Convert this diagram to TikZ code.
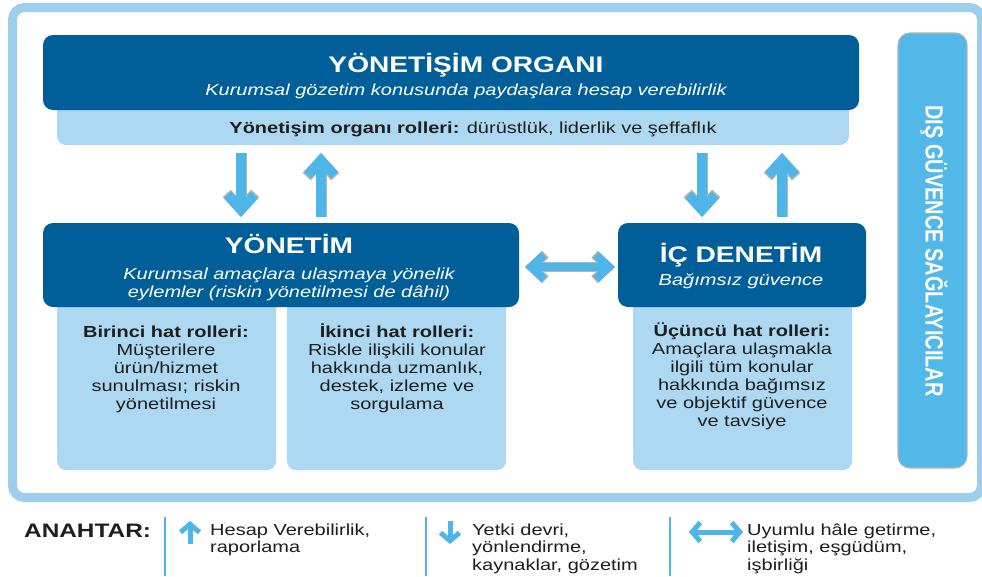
\documentclass[tikz,border=0pt]{standalone}
\usepackage{fontspec}
\setmainfont{Liberation Sans}[FakeStretch=1.25]
\newfontfamily\plainsans{Liberation Sans}
\usetikzlibrary{arrows.meta}
\definecolor{darkb}{HTML}{005F99}
\definecolor{lightb}{HTML}{ACD8F2}
\definecolor{framec}{HTML}{9DCFEC}
\definecolor{arrowc}{HTML}{4DB5E8}
\definecolor{barc}{HTML}{52B8E8}
\definecolor{txtc}{HTML}{1E1E1E}
\definecolor{outl}{HTML}{B4B4B4}
\tikzset{
  darkbox/.style={fill=darkb, rounded corners=10pt, inner sep=0pt},
  lightbox/.style={fill=lightb, rounded corners=9pt, inner sep=0pt},
  titletext/.style={text=white, font=\bfseries\fontsize{22.5}{27}\selectfont, anchor=base, inner sep=0pt},
  subtext/.style={text=white, font=\itshape\fontsize{16}{17.5}\selectfont, anchor=base, align=center, inner sep=0pt},
  bodytext/.style={text=txtc, font=\fontsize{16}{18}\selectfont, anchor=base, align=center, inner sep=0pt},
  keytext/.style={text=txtc, font=\fontsize{16}{17.5}\selectfont, anchor=base west, align=left, inner sep=0pt},
  bigarrow/.style={preaction={draw=outl, line width=11pt, -{Straight Barb[length=15.5pt,width=28.5pt]}},
    draw=arrowc, line width=9.5pt, -{Straight Barb[length=15pt,width=27pt]}},
  bigdouble/.style={preaction={draw=outl, line width=9.5pt, {Straight Barb[length=13.5pt,width=25.5pt]}-{Straight Barb[length=13.5pt,width=25.5pt]}},
    draw=arrowc, line width=8pt, {Straight Barb[length=13pt,width=24pt]}-{Straight Barb[length=13pt,width=24pt]}},
  keyarrow/.style={draw=arrowc, line width=5pt, -{Straight Barb[length=8pt,width=19pt]}},
  keydouble/.style={draw=arrowc, line width=5pt, {Straight Barb[length=8pt,width=19pt]}-{Straight Barb[length=8pt,width=19pt]}},
  sepline/.style={draw=arrowc, line width=1.5pt}
}
\begin{document}
\begin{tikzpicture}[x=1pt,y=-1pt]
\useasboundingbox (0,0) rectangle (982,576);
\fill[white] (0,0) rectangle (982,576);
% outer frame
\draw[framec, line width=9pt, rounded corners=12pt] (12.5,7.5) rectangle (981.5,497.5);

% governing body
\node[lightbox, minimum width=792pt, minimum height=50pt] (strip) at (453,120) {};
\node[darkbox, minimum width=816pt, minimum height=75pt] (gov) at (451,72.5) {};
\node[titletext] (govtitle) at (466,72) {YÖNETİŞİM ORGANI};
\node[subtext] (govsub) at (466,95) {Kurumsal gözetim konusunda paydaşlara hesap verebilirlik};
\node[bodytext] (striptext) at (473,133) {\textbf{Yönetişim organı rolleri:} dürüstlük, liderlik ve şeffaflık};

% external assurance bar
\node[fill=barc, draw=outl, line width=1.2pt, rounded corners=12pt, minimum width=69pt, minimum height=435pt, inner sep=0pt] (ext) at (932.5,250.5) {};
\node[text=white, rotate=-90, inner sep=0pt, font=\plainsans\bfseries\fontsize{20}{24}\selectfont] (exttext) at (934,251) {\scalebox{1}[1.25]{DIŞ GÜVENCE SAĞLAYICILAR}};

% light role boxes
\node[lightbox, minimum width=219pt, minimum height=180pt] (first) at (166.5,380) {};
\node[lightbox, minimum width=219pt, minimum height=180pt] (second) at (396.5,380) {};
\node[lightbox, minimum width=219pt, minimum height=180pt] (third) at (742.5,380) {};

% management and internal audit
\node[darkbox, minimum width=476pt, minimum height=84pt] (mgmt) at (281,265) {};
\node[darkbox, minimum width=248pt, minimum height=84pt] (audit) at (742,265) {};
\node[titletext] (mgmttitle) at (289,253) {YÖNETİM};
\node[subtext] (mgmtsub) at (289,297) {Kurumsal amaçlara ulaşmaya yönelik\\eylemler (riskin yönetilmesi de dâhil)};
\node[titletext] (audittitle) at (741,262) {İÇ DENETİM};
\node[subtext] (auditsub) at (741,285) {Bağımsız güvence};

\node[bodytext] (firsttext) at (166,409) {\textbf{Birinci hat rolleri:}\\Müşterilere\\ürün/hizmet\\sunulması; riskin\\yönetilmesi};
\node[bodytext] (secondtext) at (397,409) {\textbf{İkinci hat rolleri:}\\Riskle ilişkili konular\\hakkında uzmanlık,\\destek, izleme ve\\sorgulama};
\node[bodytext] (thirdtext) at (742,426) {\textbf{Üçüncü hat rolleri:}\\Amaçlara ulaşmakla\\ilgili tüm konular\\hakkında bağımsız\\ve objektif güvence\\ve tavsiye};

% arrows between levels
\coordinate (d1s) at (241,153); \coordinate (d1e) at (241,217);
\coordinate (u1s) at (321,217); \coordinate (u1e) at (321,153);
\coordinate (d2s) at (702,153); \coordinate (d2e) at (702,217);
\coordinate (u2s) at (782,217); \coordinate (u2e) at (782,153);
\draw[bigarrow] (d1s) -- (d1e);
\draw[bigarrow] (u1s) -- (u1e);
\draw[bigarrow] (d2s) -- (d2e);
\draw[bigarrow] (u2s) -- (u2e);
\coordinate (hs) at (525,267); \coordinate (he) at (615,267);
\draw[bigdouble] (hs) -- (he);

% key
\node[anchor=base west, inner sep=0pt, text=txtc, font=\bfseries\fontsize{19.5}{23}\selectfont] (key) at (24,537) {ANAHTAR:};
\coordinate (s1a) at (165,517); \coordinate (s1b) at (165,576);
\coordinate (s2a) at (426,517); \coordinate (s2b) at (426,576);
\coordinate (s3a) at (670,517); \coordinate (s3b) at (670,576);
\draw[sepline] (s1a) -- (s1b);
\draw[sepline] (s2a) -- (s2b);
\draw[sepline] (s3a) -- (s3b);
\coordinate (k1s) at (190,544); \coordinate (k1e) at (190,521);
\coordinate (k2s) at (450,521); \coordinate (k2e) at (450,544);
\coordinate (k3s) at (689,532); \coordinate (k3e) at (743,532);
\draw[keyarrow] (k1s) -- (k1e);
\draw[keyarrow] (k2s) -- (k2e);
\draw[keydouble] (k3s) -- (k3e);
\node[keytext] (key1) at (210,552.5) {Hesap Verebilirlik,\\raporlama};
\node[keytext] (key2) at (472,570) {Yetki devri,\\yönlendirme,\\kaynaklar, gözetim};
\node[keytext] (key3) at (747,570) {Uyumlu hâle getirme,\\iletişim, eşgüdüm,\\işbirliği};
\end{tikzpicture}
\end{document}
